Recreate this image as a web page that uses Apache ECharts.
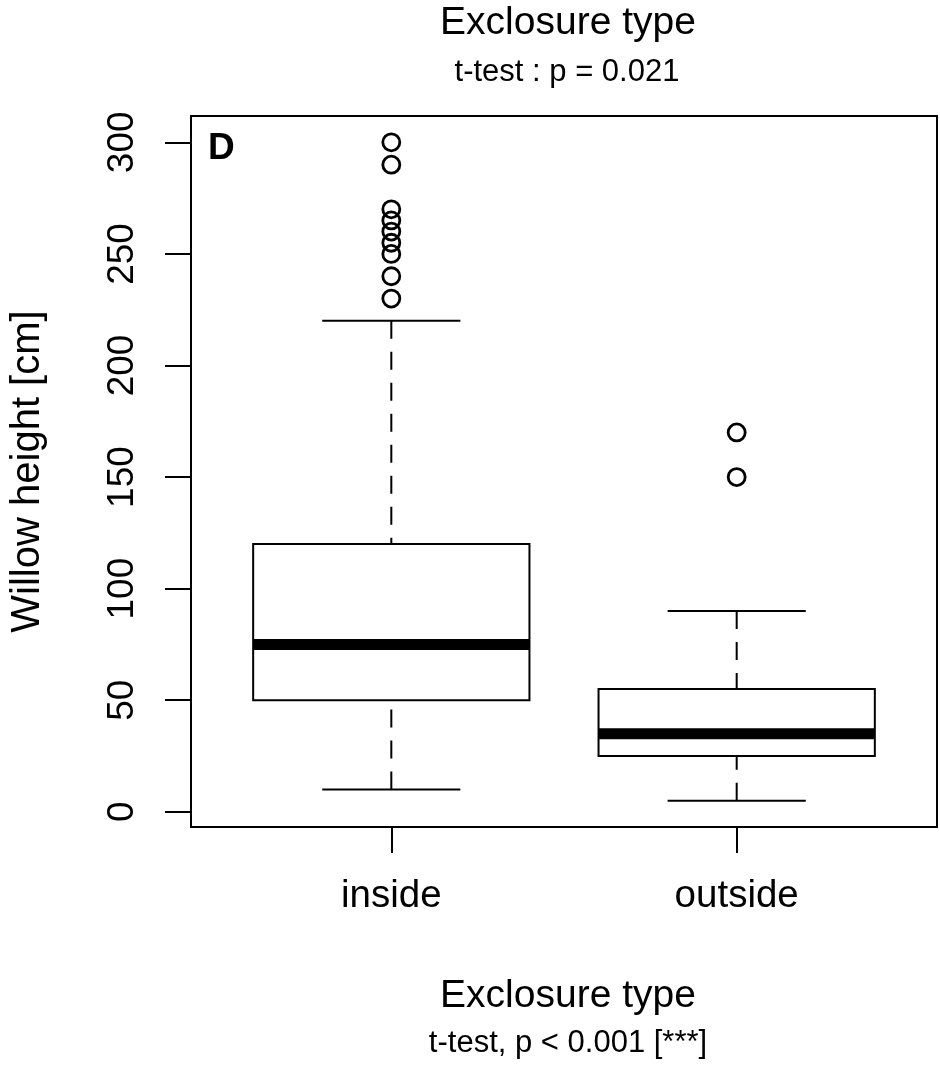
<!DOCTYPE html>
<html>
<head>
<meta charset="utf-8">
<script src="https://cdn.jsdelivr.net/npm/echarts@6/dist/echarts.min.js"></script>
<style>html,body{margin:0;padding:0;background:#fff;}#c{width:940px;height:1067px;}</style>
</head>
<body>
<div id="c"></div>
<script>
// ---- data ----
const categories = ['inside', 'outside'];
// [lower whisker, Q1, median, Q3, upper whisker]
const boxInside = [10, 50, 75, 120, 220];
const boxOutside = [5, 25, 35, 55, 90];
const outliersInside = [300, 290, 270, 265, 260, 255, 250, 240, 230];
const outliersOutside = [170, 150];
const yTicks = [0, 50, 100, 150, 200, 250, 300];
const xTicks = [1, 2];

const FONT = '"Liberation Sans", Arial, sans-serif';
const boxes = [[1].concat(boxInside), [2].concat(boxOutside)];
const outlierData = outliersInside.map(v => [1, v]).concat(outliersOutside.map(v => [2, v]));

const chart = echarts.init(document.getElementById('c'), null, {renderer: 'canvas'});

function renderBox(params, api) {
  const x = api.value(0);
  const lo = api.value(1), q1 = api.value(2), med = api.value(3), q3 = api.value(4), hi = api.value(5);
  const hw = 0.4, cw = 0.2;
  const p = (xx, yy) => api.coord([xx, yy]);
  const dash = {stroke: '#000', lineWidth: 2, lineDash: [18, 13]};
  const solid = {stroke: '#000', lineWidth: 2};
  const tl = p(x - hw, q3), br = p(x + hw, q1);
  const ml = p(x - hw, med), mr = p(x + hw, med);
  return {
    type: 'group',
    children: [
      {type: 'line', shape: {x1: p(x, hi)[0], y1: p(x, hi)[1], x2: p(x, q3)[0], y2: p(x, q3)[1]}, style: dash},
      {type: 'line', shape: {x1: p(x, lo)[0], y1: p(x, lo)[1], x2: p(x, q1)[0], y2: p(x, q1)[1]}, style: dash},
      {type: 'line', shape: {x1: p(x - cw, hi)[0], y1: p(x - cw, hi)[1], x2: p(x + cw, hi)[0], y2: p(x + cw, hi)[1]}, style: solid},
      {type: 'line', shape: {x1: p(x - cw, lo)[0], y1: p(x - cw, lo)[1], x2: p(x + cw, lo)[0], y2: p(x + cw, lo)[1]}, style: solid},
      {type: 'rect', shape: {x: tl[0], y: tl[1], width: br[0] - tl[0], height: br[1] - tl[1]}, style: {fill: '#fff', stroke: '#000', lineWidth: 2}},
      {type: 'line', shape: {x1: ml[0], y1: ml[1], x2: mr[0], y2: mr[1]}, style: {stroke: '#000', lineWidth: 11}}
    ]
  };
}

const option = {
  backgroundColor: '#fff',
  animation: false,
  textStyle: {fontFamily: FONT},
  title: [
    {text: 'Exclosure type', left: 563, top: -1, textAlign: 'center', textStyle: {fontFamily: FONT, fontSize: 39, fontWeight: 'normal', color: '#000'}},
    {text: 't-test : p = 0.021', left: 562, top: 52, textAlign: 'center', textStyle: {fontFamily: FONT, fontSize: 31, fontWeight: 'normal', color: '#000'}},
    {text: 'Exclosure type', left: 563, top: 972, textAlign: 'center', textStyle: {fontFamily: FONT, fontSize: 39, fontWeight: 'normal', color: '#000'}},
    {text: 't-test, p < 0.001 [***]', left: 563, top: 1023, textAlign: 'center', textStyle: {fontFamily: FONT, fontSize: 31, fontWeight: 'normal', color: '#000'}},
    {text: 'D', left: 203, top: 125, textStyle: {fontFamily: FONT, fontSize: 37, fontWeight: 'bold', color: '#000'}}
  ],
  grid: {left: 191, top: 116, width: 746, height: 711, show: true, borderColor: '#000', borderWidth: 2, backgroundColor: 'transparent', containLabel: false},
  xAxis: {
    type: 'value', min: 0.42, max: 2.58,
    axisLine: {show: true, onZero: false, lineStyle: {color: '#000', width: 2}},
    axisTick: {show: true, customValues: xTicks, length: 26, lineStyle: {color: '#000', width: 2}},
    axisLabel: {show: true, customValues: xTicks, formatter: v => categories[Math.round(v) - 1], margin: 50, fontFamily: FONT, fontSize: 38.5, color: '#000'},
    splitLine: {show: false}
  },
  yAxis: {
    type: 'value', min: -6.8, max: 311.8,
    name: 'Willow height [cm]', nameLocation: 'middle', nameRotate: 90, nameGap: 143,
    nameTextStyle: {fontFamily: FONT, fontSize: 40, color: '#000'},
    axisLine: {show: true, onZero: false, lineStyle: {color: '#000', width: 2}},
    axisTick: {show: true, customValues: yTicks, length: 26, lineStyle: {color: '#000', width: 2}},
    axisLabel: {show: true, customValues: yTicks, rotate: 90, margin: 50, fontFamily: FONT, fontSize: 37, color: '#000'},
    splitLine: {show: false}
  },
  series: [
    {type: 'custom', renderItem: renderBox, data: boxes, encode: {x: 0, y: [1, 2, 3, 4, 5]}, z: 2},
    {type: 'scatter', data: outlierData, symbol: 'circle', symbolSize: 17,
     itemStyle: {color: 'rgba(255,255,255,0)', borderColor: '#000', borderWidth: 2.8, opacity: 1}, z: 3}
  ]
};
chart.setOption(option);
</script>
</body>
</html>
